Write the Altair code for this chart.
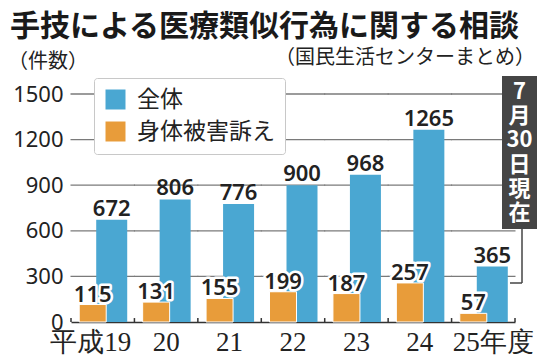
import altair as alt
import pandas as pd

# ---- data ----
years = ["平成19", "20", "21", "22", "23", "24", "25年度"]
total = [672, 806, 776, 900, 968, 1265, 365]
harm = [115, 131, 155, 199, 187, 257, 57]
series = ["全体", "身体被害訴え"]
colors = ["#4aa7d2", "#e89c3a"]
y_ticks = [0, 300, 600, 900, 1200, 1500]
title_text = ["手技による医療類似行為に関する相談"]
source_text = ["（国民生活センターまとめ）"]
unit_text = ["（件数）"]
note_text = ["7\n月\n30\n日\n現\n在"]

rows = []
for yr, t, h in zip(years, total, harm):
    rows.append({"year": yr, "series": series[0], "value": t})
    rows.append({"year": yr, "series": series[1], "value": h})
df = pd.DataFrame(rows)

grid_rows = [{"year": yr, "v": v} for yr in years for v in y_ticks[1:]]
grid_df = pd.DataFrame(grid_rows)

W, H = 444, 228
BAND = W / len(years)
JP = "Noto Sans CJK JP"
NUM = "Noto Sans"
Y_SCALE = alt.Scale(domain=[0, 1500])

x_enc = alt.X(
    "year:N", sort=years,
    scale=alt.Scale(paddingInner=0, paddingOuter=0),
    axis=alt.Axis(
        title=None, labelAngle=0, labelFont="Liberation Serif", labelFontSize=27,
        labelColor="#222", ticks=False, domainColor="#333", domainWidth=1.5,
        labelPadding=7, grid=False,
        labelOffset={"condition": [
            {"test": "datum.value === '平成19'", "value": -12},
            {"test": "datum.value === '25年度'", "value": 10}],
            "value": 0},
    ),
)
y_enc = alt.Y(
    "value:Q",
    scale=Y_SCALE,
    axis=alt.Axis(
        values=y_ticks, format="d", title=None, labelFont=NUM, labelFontSize=22,
        labelColor="#222", labelPadding=8, ticks=False, domain=False, grid=False,
    ),
)
color_enc = alt.Color(
    "series:N",
    scale=alt.Scale(domain=series, range=colors),
    legend=alt.Legend(
        title=None, orient="none", legendX=23, legendY=-16,
        fillColor="white", strokeColor="#c8c8c8", padding=10, cornerRadius=3,
        symbolType="square", symbolSize=400, symbolStrokeWidth=0,
        symbolOpacity=1, labelFont=JP, labelFontSize=23, labelColor="#222",
        labelOffset=10, rowPadding=8,
    ),
)

base = alt.Chart(df)
blue = base.transform_filter(alt.datum.series == series[0])
orange = base.transform_filter(alt.datum.series == series[1])

# gridlines: one horizontal tick per category and level, joined across the bands
grid = alt.Chart(grid_df).mark_tick(
    orient="horizontal", color="#7a7a7a", thickness=1.3, size=BAND + 1, opacity=1).encode(
    x=x_enc, y=alt.Y("v:Q", scale=Y_SCALE))

blue_bars = blue.mark_bar(width=31, xOffset=9).encode(x=x_enc, y=y_enc, color=color_enc)
orange_bars = orange.mark_bar(width=27, xOffset=-10, stroke="white", strokeWidth=1).encode(
    x=x_enc, y=y_enc, color=color_enc)

blue_lbl = blue.mark_text(xOffset=9, dy=-4, baseline="alphabetic", font=NUM,
                          fontSize=22, fontWeight=600, color="#222").encode(
    x=x_enc, y=y_enc, text="value:Q")
orange_halo = orange.mark_text(xOffset=-10, dy=-3, baseline="alphabetic", font=NUM,
                               fontSize=22, fontWeight=600, stroke="white",
                               strokeWidth=5, strokeJoin="round", color="white").encode(
    x=x_enc, y=y_enc, text="value:Q")
orange_lbl = orange.mark_text(xOffset=-10, dy=-3, baseline="alphabetic", font=NUM,
                              fontSize=22, fontWeight=600, color="#222").encode(
    x=x_enc, y=y_enc, text="value:Q")

yr = alt.Chart(pd.DataFrame({"year": years}))
tick_l = yr.mark_rule(xOffset=-BAND / 2, color="#333", strokeWidth=1.5).encode(
    x=x_enc, y=alt.Y(datum=0, scale=Y_SCALE), y2=alt.datum(26))
tick_r = yr.transform_filter(alt.datum.year == years[-1]).mark_rule(
    xOffset=BAND / 2, color="#333", strokeWidth=1.5).encode(
    x=x_enc, y=alt.Y(datum=0, scale=Y_SCALE), y2=alt.datum(26))

title = alt.Chart(pd.DataFrame({"t": title_text})).mark_text(
    align="left", baseline="middle", font=JP, fontSize=30, fontWeight="bold",
    color="#1a1a1a").encode(x=alt.value(-61), y=alt.value(-67), text="t:N")
source = alt.Chart(pd.DataFrame({"t": source_text})).mark_text(
    align="right", baseline="middle", font=JP, fontSize=20, color="#222").encode(
    x=alt.value(464), y=alt.value(-36), text="t:N")
unit = alt.Chart(pd.DataFrame({"t": unit_text})).mark_text(
    align="left", baseline="middle", font=JP, fontSize=20, color="#222").encode(
    x=alt.value(-63), y=alt.value(-32), text="t:N")

note_df = pd.DataFrame({"t": note_text})
note_box = alt.Chart(note_df).mark_rect(color="#454545").encode(
    x=alt.value(431), x2=alt.value(466), y=alt.value(-18), y2=alt.value(135))
note_txt = alt.Chart(note_df).mark_text(
    lineBreak="\n", lineHeight=24.2, align="center", baseline="middle", font=JP,
    fontSize=22, fontWeight="bold", color="white").encode(
    x=alt.value(448.5), y=alt.value(-2), text="t:N")
conn_v = alt.Chart(note_df).mark_rule(color="#444", strokeWidth=1.5).encode(
    x=alt.value(451), y=alt.value(135), y2=alt.value(189))
conn_h = alt.Chart(note_df).mark_rule(color="#444", strokeWidth=1.5).encode(
    x=alt.value(439), x2=alt.value(451), y=alt.value(189))
shadow = alt.Chart(note_df).mark_rect(color="#d8d8d8", cornerRadius=3).encode(
    x=alt.value(26), x2=alt.value(214), y=alt.value(-13), y2=alt.value(61))

chart = alt.layer(
    grid, shadow, conn_v, conn_h, note_box,
    blue_bars, orange_bars, tick_l, tick_r,
    blue_lbl, orange_halo, orange_lbl,
    note_txt, title, source, unit,
).properties(
    width=W, height=H,
    autosize=alt.AutoSizeParams(type="none"),
    padding={"left": 63, "top": 86, "right": 31, "bottom": 34},
    background="white",
).configure_view(stroke=None)

chart.save("out.html", embed_options={"renderer": "svg", "actions": False})
